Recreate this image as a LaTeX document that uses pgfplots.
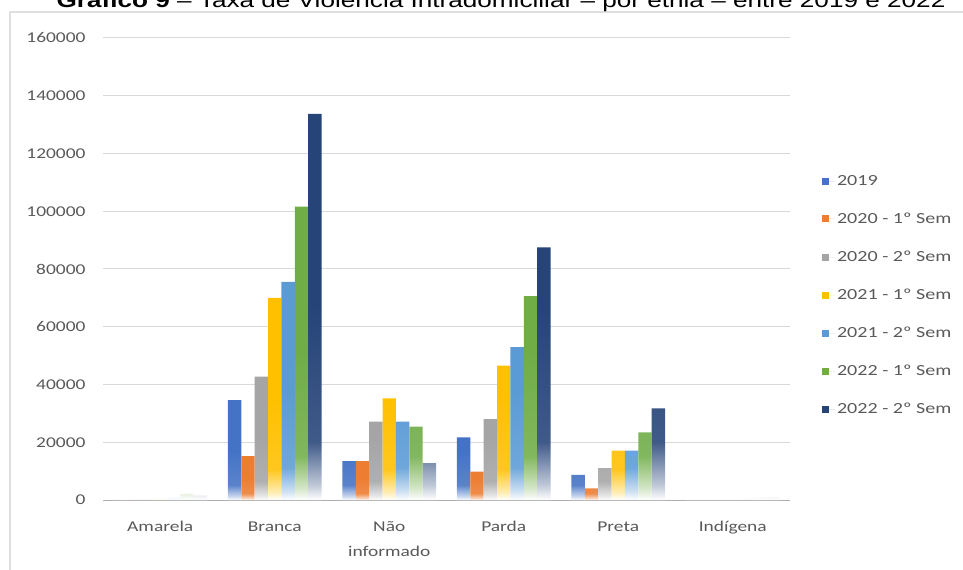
\documentclass[border=0pt]{standalone}
\usepackage{pgfplots}
\pgfplotsset{compat=1.18}
\usepackage{fontspec}
\setmainfont{Carlito}
\newfontfamily\chartfont{Carlito}[FakeStretch=1.3]
\newfontfamily\titlefont{Liberation Sans}[FakeStretch=1.28]

\definecolor{cA}{HTML}{4472C4}
\definecolor{cB}{HTML}{ED7D31}
\definecolor{cC}{HTML}{A5A5A5}
\definecolor{cD}{HTML}{FFC000}
\definecolor{cE}{HTML}{5B9BD5}
\definecolor{cF}{HTML}{70AD47}
\definecolor{cG}{HTML}{264478}
\definecolor{tickgray}{HTML}{595959}
\definecolor{gridgray}{HTML}{D9D9D9}

% bars fade to white towards their base (path is fitted to 25bp..75bp)
\newcommand\barfade[2]{%
  \pgfdeclareverticalshading{#1}{100bp}{color(0bp)=(white); color(25bp)=(white);
    color(27bp)=(#2!30!white); color(32.5bp)=(#2!88!white); color(50bp)=(#2); color(100bp)=(#2)}}
\barfade{fadeA}{cA}
\barfade{fadeB}{cB}
\barfade{fadeC}{cC}
\barfade{fadeD}{cD}
\barfade{fadeE}{cE}
\barfade{fadeF}{cF}
\barfade{fadeG}{cG}

\begin{document}
\begin{tikzpicture}
\begin{axis}[
  at={(103bp,70bp)}, anchor=south west,
  scale only axis, width=687bp, height=462bp,
  ybar, bar width=0.1167,
  xmin=-0.5, xmax=5.5, ymin=0, ymax=160000,
  xtick={0,1,2,3,4,5},
  xticklabels={Amarela, Branca, {Não\\informado}, Parda, Preta, Indígena},
  ytick={0,20000,40000,60000,80000,100000,120000,140000,160000},
  scaled y ticks=false,
  /pgf/number format/fixed,
  /pgf/number format/precision=0,
  /pgf/number format/1000 sep={},
  /pgf/number format/assume math mode=true,
  ymajorgrids, grid style={gridgray, line width=1pt},
  axis x line*=bottom, axis y line*=left,
  x axis line style={gridgray!80!black, line width=1pt, -},
  y axis line style={draw=none},
  major tick length=0pt,
  tick label style={font=\chartfont\fontsize{15}{25}\selectfont, text=tickgray},
  xticklabel style={align=center, yshift=-18bp},
  yticklabel style={xshift=-14bp},
  legend style={at={(1.042,0.7115)}, anchor=north west, draw=none, fill=none,
    font=\chartfont\fontsize{15.5}{18}\selectfont, text=tickgray, row sep=22bp},
  legend cell align=left,
  legend image code/.code={\fill[#1] (0bp,-3.5bp) rectangle (7bp,3.5bp); \path (0bp,0bp) -- (13bp,0bp);},
]
\addlegendimage{fill=cA, draw=none}
\addlegendimage{fill=cB, draw=none}
\addlegendimage{fill=cC, draw=none}
\addlegendimage{fill=cD, draw=none}
\addlegendimage{fill=cE, draw=none}
\addlegendimage{fill=cF, draw=none}
\addlegendimage{fill=cG, draw=none}

% 2019
\addplot[forget plot, draw=none, shade, shading=fadeA, bar shift=-0.3501]
  coordinates {(0,100) (1,34600) (2,13500) (3,21700) (4,8700) (5,50)};
% 2020 - 1º Sem
\addplot[forget plot, draw=none, shade, shading=fadeB, bar shift=-0.2334]
  coordinates {(0,100) (1,15200) (2,13500) (3,9800) (4,4000) (5,50)};
% 2020 - 2º Sem
\addplot[forget plot, draw=none, shade, shading=fadeC, bar shift=-0.1167]
  coordinates {(0,400) (1,42700) (2,27100) (3,28000) (4,11000) (5,150)};
% 2021 - 1º Sem
\addplot[forget plot, draw=none, shade, shading=fadeD, bar shift=0]
  coordinates {(0,600) (1,70000) (2,35200) (3,46500) (4,17100) (5,250)};
% 2021 - 2º Sem
\addplot[forget plot, draw=none, shade, shading=fadeE, bar shift=0.1167]
  coordinates {(0,800) (1,75500) (2,27100) (3,52900) (4,17100) (5,500)};
% 2022 - 1º Sem
\addplot[forget plot, draw=none, shade, shading=fadeF, bar shift=0.2334]
  coordinates {(0,2100) (1,101600) (2,25400) (3,70600) (4,23400) (5,800)};
% 2022 - 2º Sem
\addplot[forget plot, draw=none, shade, shading=fadeG, bar shift=0.3501]
  coordinates {(0,1600) (1,133700) (2,12800) (3,87500) (4,31700) (5,900)};

\legend{2019, 2020 - 1º Sem, 2020 - 2º Sem, 2021 - 1º Sem, 2021 - 2º Sem, 2022 - 1º Sem, 2022 - 2º Sem}
\end{axis}

% chart frame
\draw[gray!25, line width=1.5bp] (10bp,0bp) -- (10bp,558bp) -- (963bp,558bp);
% caption line above the chart
\node[anchor=base, font=\titlefont\fontsize{20.5}{24}\selectfont] at (501bp,562.5bp)
  {\textbf{Gráfico 9} – Taxa de Violência Intradomiciliar – por etnia – entre 2019 e 2022};

\pgfresetboundingbox
\useasboundingbox (0bp,0bp) rectangle (963bp,570bp);
\end{tikzpicture}
\end{document}
